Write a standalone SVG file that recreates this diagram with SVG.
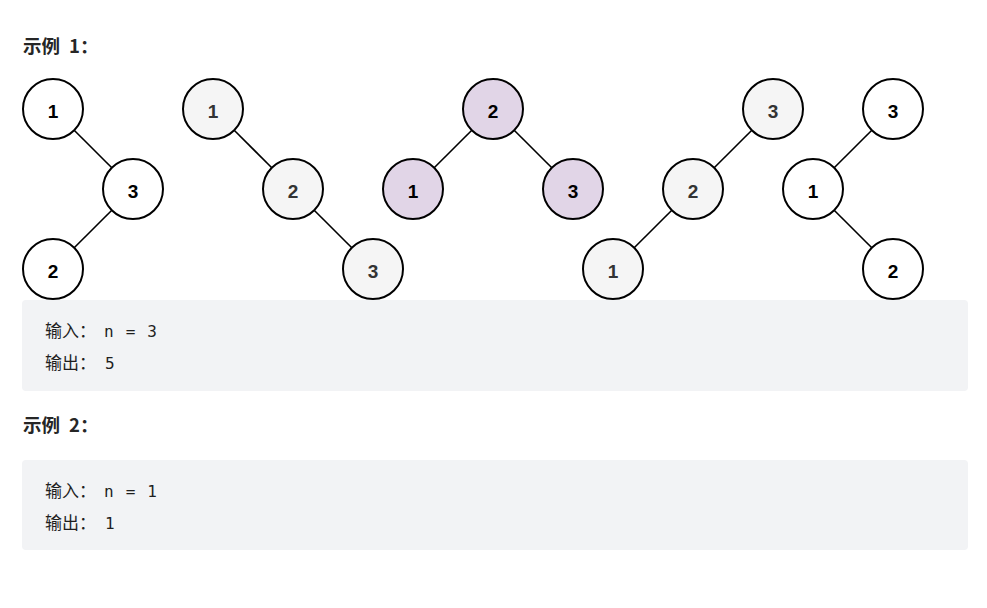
<svg xmlns="http://www.w3.org/2000/svg" width="987" height="608" viewBox="0 0 987 608">
<style>
.n circle{stroke:#000;stroke-width:2}
.w circle{fill:#fff}
.g circle{fill:#f5f5f5}
.p circle{fill:#e1d5e7}
.n text{font-family:"Liberation Sans",Arial,sans-serif;font-weight:bold;font-size:19px;text-anchor:middle}
.w text,.p text{fill:#000}
.g text{fill:#333}
#edges line{stroke:#000;stroke-width:1.6}
.box{fill:#f2f3f5}
.title{font-family:"Noto Sans CJK SC",sans-serif;font-weight:bold;font-size:18.5px;fill:#262626}
.code{font-family:"DejaVu Sans Mono","Noto Sans CJK SC",monospace;font-size:16px;fill:#1f1f1f}
.cjk{font-family:"Noto Sans CJK SC",sans-serif;font-size:17px;fill:#1f1f1f}
</style>
<rect width="987" height="608" fill="#fff"/>
<text class="title" x="23" y="53">示例<tspan x="69">1：</tspan></text>
<g id="edges">
<line x1="74.2" y1="130.2" x2="111.8" y2="167.8"/>
<line x1="111.8" y1="210.2" x2="74.2" y2="247.8"/>
<line x1="234.2" y1="130.2" x2="271.8" y2="167.8"/>
<line x1="314.2" y1="210.2" x2="351.8" y2="247.8"/>
<line x1="471.8" y1="130.2" x2="434.2" y2="167.8"/>
<line x1="514.2" y1="130.2" x2="551.8" y2="167.8"/>
<line x1="751.8" y1="130.2" x2="714.2" y2="167.8"/>
<line x1="671.8" y1="210.2" x2="634.2" y2="247.8"/>
<line x1="871.8" y1="130.2" x2="834.2" y2="167.8"/>
<line x1="834.2" y1="210.2" x2="871.8" y2="247.8"/>
</g>
<g id="t1a" class="n w"><circle cx="53" cy="109" r="30"/><text x="53" y="118">1</text></g>
<g id="t1b" class="n w"><circle cx="133" cy="189" r="30"/><text x="133" y="198">3</text></g>
<g id="t1c" class="n w"><circle cx="53" cy="269" r="30"/><text x="53" y="278">2</text></g>
<g id="t2a" class="n g"><circle cx="213" cy="109" r="30"/><text x="213" y="118">1</text></g>
<g id="t2b" class="n g"><circle cx="293" cy="189" r="30"/><text x="293" y="198">2</text></g>
<g id="t2c" class="n g"><circle cx="373" cy="269" r="30"/><text x="373" y="278">3</text></g>
<g id="t3a" class="n p"><circle cx="493" cy="109" r="30"/><text x="493" y="118">2</text></g>
<g id="t3b" class="n p"><circle cx="413" cy="189" r="30"/><text x="413" y="198">1</text></g>
<g id="t3c" class="n p"><circle cx="573" cy="189" r="30"/><text x="573" y="198">3</text></g>
<g id="t4a" class="n g"><circle cx="773" cy="109" r="30"/><text x="773" y="118">3</text></g>
<g id="t4b" class="n g"><circle cx="693" cy="189" r="30"/><text x="693" y="198">2</text></g>
<g id="t4c" class="n g"><circle cx="613" cy="269" r="30"/><text x="613" y="278">1</text></g>
<g id="t5a" class="n w"><circle cx="893" cy="109" r="30"/><text x="893" y="118">3</text></g>
<g id="t5b" class="n w"><circle cx="813" cy="189" r="30"/><text x="813" y="198">1</text></g>
<g id="t5c" class="n w"><circle cx="893" cy="269" r="30"/><text x="893" y="278">2</text></g>
<rect class="box" x="22" y="300" width="946" height="91" rx="4"/>
<text class="cjk" x="45" y="337">输入：</text>
<text class="code" x="104" y="337" textLength="53" xml:space="preserve">n = 3</text>
<text class="cjk" x="45" y="369">输出：</text>
<text class="code" x="105" y="369">5</text>
<text class="title" x="23" y="432">示例<tspan x="69">2：</tspan></text>
<rect class="box" x="22" y="460" width="946" height="90" rx="4"/>
<text class="cjk" x="45" y="497">输入：</text>
<text class="code" x="104" y="497" textLength="53" xml:space="preserve">n = 1</text>
<text class="cjk" x="45" y="529">输出：</text>
<text class="code" x="105" y="529">1</text>
</svg>
